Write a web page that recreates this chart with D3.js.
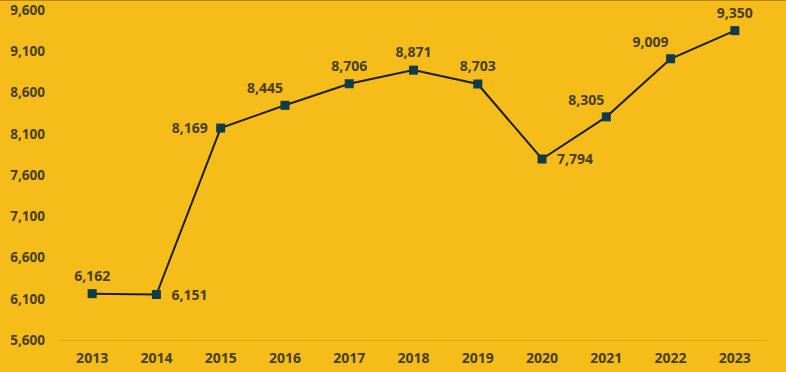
<!DOCTYPE html>
<html>
<head>
<meta charset="utf-8">
<script src="https://cdn.jsdelivr.net/npm/d3@7"></script>
<style>
  html, body { margin: 0; padding: 0; background: #F6BC1A; }
  svg { display: block; }
</style>
</head>
<body>
<div id="chart"></div>
<script>
// Yearly values, 2013-2023
const years = ["2013", "2014", "2015", "2016", "2017", "2018", "2019", "2020", "2021", "2022", "2023"];
const values = [6162, 6151, 8169, 8445, 8706, 8871, 8703, 7794, 8305, 9009, 9350];
const yTicks = [5600, 6100, 6600, 7100, 7600, 8100, 8600, 9100, 9600];
// where each value label sits relative to its marker
const labelSide = ["above", "right", "left", "aboveLeft", "above", "above", "above", "right", "aboveLeft", "aboveLeft", "above"];

const width = 786, height = 372;
const margin = { top: 10, right: 19, bottom: 32, left: 60 };

const svg = d3.select("#chart")
  .append("svg")
    .attr("width", width)
    .attr("height", height);

svg.append("rect")
  .attr("width", width)
  .attr("height", height)
  .attr("fill", "#F6BC1A");

svg.append("line")
  .attr("x1", 0).attr("x2", width)
  .attr("y1", 0.5).attr("y2", 0.5)
  .attr("stroke", "#b8860b")
  .attr("stroke-width", 1);

const x = d3.scaleBand()
  .domain(years)
  .range([margin.left, width - margin.right]);

const y = d3.scaleLinear()
  .domain([5600, 9600])
  .range([height - margin.bottom, margin.top]);

const textColor = "#473f1f";
const font = "'Open Sans', sans-serif";

// Y axis
const yAxis = svg.append("g")
  .attr("transform", `translate(${margin.left},0)`)
  .call(d3.axisLeft(y).tickValues(yTicks).tickFormat(d3.format(",")).tickSize(0).tickPadding(15));
yAxis.select(".domain").remove();
yAxis.selectAll("text")
  .attr("fill", textColor)
  .style("font-family", font)
  .style("font-size", "13.5px")
  .style("font-weight", "bold");

// X axis baseline
const xAxis = svg.append("g")
  .attr("transform", `translate(0,${y(5600)})`)
  .call(d3.axisBottom(x).tickSize(0).tickPadding(13));
xAxis.select(".domain").attr("stroke", "#e0a818").attr("stroke-width", 1.2);
xAxis.selectAll("text")
  .attr("fill", textColor)
  .style("font-family", font)
  .style("font-size", "14px")
  .style("font-weight", "bold");

const cx = (d, i) => x(years[i]) + x.bandwidth() / 2;

// Line
const line = d3.line()
  .x((d, i) => cx(d, i))
  .y(d => y(d));

svg.append("path")
  .datum(values)
  .attr("fill", "none")
  .attr("stroke", "#1b1f1f")
  .attr("stroke-width", 2)
  .attr("d", line);

// Markers
const ms = 9;
svg.selectAll("rect.marker")
  .data(values)
  .enter()
  .append("rect")
    .attr("class", "marker")
    .attr("x", (d, i) => cx(d, i) - ms / 2)
    .attr("y", d => y(d) - ms / 2)
    .attr("width", ms)
    .attr("height", ms)
    .attr("fill", "#0f3b4a");

// Value labels
const offsets = {
  above: { dx: 0, dy: -13, anchor: "middle" },
  right: { dx: 15, dy: 5, anchor: "start" },
  left: { dx: -13, dy: 5, anchor: "end" },
  aboveLeft: { dx: -20, dy: -12, anchor: "middle" }
};

svg.selectAll("text.val")
  .data(values)
  .enter()
  .append("text")
    .attr("class", "val")
    .attr("x", (d, i) => cx(d, i) + offsets[labelSide[i]].dx)
    .attr("y", (d, i) => y(d) + offsets[labelSide[i]].dy)
    .attr("text-anchor", (d, i) => offsets[labelSide[i]].anchor)
    .attr("fill", textColor)
    .style("font-family", font)
    .style("font-size", "14px")
    .style("font-weight", "bold")
    .text(d => d3.format(",")(d));
</script>
</body>
</html>
